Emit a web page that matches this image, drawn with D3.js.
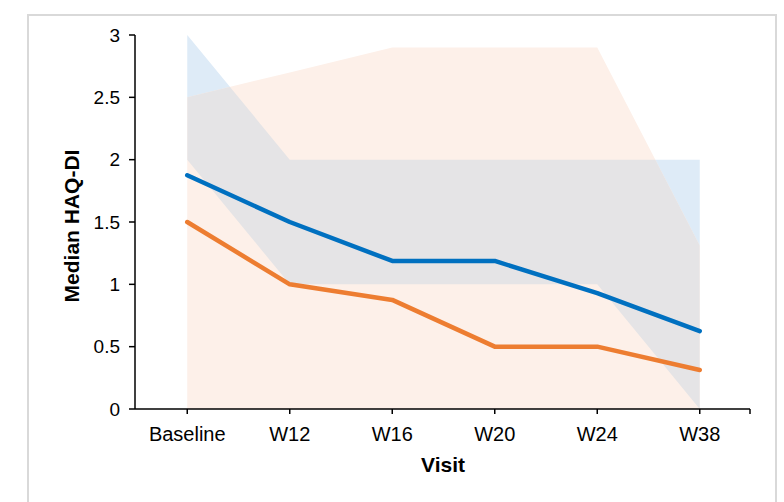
<!DOCTYPE html>
<html>
<head>
<meta charset="utf-8">
<script src="https://cdn.jsdelivr.net/npm/d3@7/dist/d3.min.js"></script>
<style>
  html, body { margin: 0; padding: 0; background: #ffffff; }
  svg { display: block; font-family: "Liberation Sans", Arial, sans-serif; }
</style>
</head>
<body>
<svg id="chart" width="784" height="502"></svg>
<script>
// Visits on the category axis
const visits = ["Baseline", "W12", "W16", "W20", "W24", "W38"];

// Median HAQ-DI per visit for the two groups
const blueMedian   = [1.875, 1.5, 1.1875, 1.1875, 0.93, 0.625];
const orangeMedian = [1.5, 1.0, 0.875, 0.5, 0.5, 0.3125];

// Interquartile ranges (lower / upper) per visit
const blueLower   = [2, 1, 1, 1, 1, 0];
const blueUpper   = [3, 2, 2, 2, 2, 2];
const orangeLower = [0, 0, 0, 0, 0, 0];
const orangeUpper = [2.5, 2.7, 2.9, 2.9, 2.9, 1.3125];

// Value axis ticks
const yTicks = [0, 0.5, 1, 1.5, 2, 2.5, 3];

const svg = d3.select("#chart");

// Outer frame
svg.append("rect")
  .attr("x", 28).attr("y", 15)
  .attr("width", 748).attr("height", 520)
  .attr("fill", "#ffffff")
  .attr("stroke", "#d9d9d9")
  .attr("stroke-width", 2);

const x = d3.scalePoint().domain(visits).range([136, 751]).padding(0.5);
const y = d3.scaleLinear().domain([0, 3]).range([409, 35]);
const axisLeft = 135, axisRight = 750;

const blueBand = visits.map((v, i) => ({ v, lo: blueLower[i], hi: blueUpper[i] }));
const orangeBand = visits.map((v, i) => ({ v, lo: orangeLower[i], hi: orangeUpper[i] }));

const area = d3.area()
  .x(d => x(d.v))
  .y0(d => y(d.lo))
  .y1(d => y(d.hi));

const defs = svg.append("defs");
defs.append("clipPath").attr("id", "orangeClip")
  .append("path").attr("d", area(orangeBand));

// IQR bands: blue, orange, and their overlap in grey
svg.append("path").attr("d", area(blueBand)).attr("fill", "#deebf7");
svg.append("path").attr("d", area(orangeBand)).attr("fill", "#fdf0e9");
svg.append("path").attr("d", area(blueBand)).attr("fill", "#e5e4e6")
  .attr("clip-path", "url(#orangeClip)");

// Median lines
const line = d3.line().x(d => x(d.v)).y(d => y(d.m));
svg.append("path")
  .attr("d", line(visits.map((v, i) => ({ v, m: orangeMedian[i] }))))
  .attr("fill", "none").attr("stroke", "#ed7d31")
  .attr("stroke-width", 4.5).attr("stroke-linejoin", "round").attr("stroke-linecap", "round");
svg.append("path")
  .attr("d", line(visits.map((v, i) => ({ v, m: blueMedian[i] }))))
  .attr("fill", "none").attr("stroke", "#0070c0")
  .attr("stroke-width", 4.5).attr("stroke-linejoin", "round").attr("stroke-linecap", "round");

// Y axis
const yAxis = svg.append("g");
yAxis.append("line")
  .attr("x1", axisLeft).attr("x2", axisLeft)
  .attr("y1", y(3)).attr("y2", y(0))
  .attr("stroke", "#000").attr("stroke-width", 1.5);
yAxis.selectAll(".yt").data(yTicks).join("line")
  .attr("x1", axisLeft - 6).attr("x2", axisLeft)
  .attr("y1", d => y(d)).attr("y2", d => y(d))
  .attr("stroke", "#000").attr("stroke-width", 1.5);
yAxis.selectAll(".yl").data(yTicks).join("text")
  .attr("x", 120).attr("y", d => y(d)).attr("dy", "0.35em")
  .attr("text-anchor", "end").attr("font-size", 19).attr("fill", "#000")
  .text(d => d3.format("~g")(d));

// X axis
const xAxis = svg.append("g");
xAxis.append("line")
  .attr("x1", axisLeft).attr("x2", axisRight)
  .attr("y1", y(0)).attr("y2", y(0))
  .attr("stroke", "#000").attr("stroke-width", 1.5);
xAxis.selectAll(".xt").data(visits.map(v => x(v)).concat([axisRight])).join("line")
  .attr("x1", d => d).attr("x2", d => d)
  .attr("y1", y(0)).attr("y2", y(0) + 5)
  .attr("stroke", "#000").attr("stroke-width", 1.5);
xAxis.selectAll(".xl").data(visits).join("text")
  .attr("x", d => x(d)).attr("y", 441)
  .attr("text-anchor", "middle").attr("font-size", 20).attr("fill", "#000")
  .text(d => d);

// Axis titles
svg.append("text")
  .attr("x", 443).attr("y", 472)
  .attr("text-anchor", "middle").attr("font-size", 21).attr("font-weight", "bold")
  .text("Visit");
svg.append("text")
  .attr("transform", "translate(79,226) rotate(-90)")
  .attr("text-anchor", "middle").attr("font-size", 21).attr("font-weight", "bold")
  .text("Median HAQ-DI");
</script>
</body>
</html>
